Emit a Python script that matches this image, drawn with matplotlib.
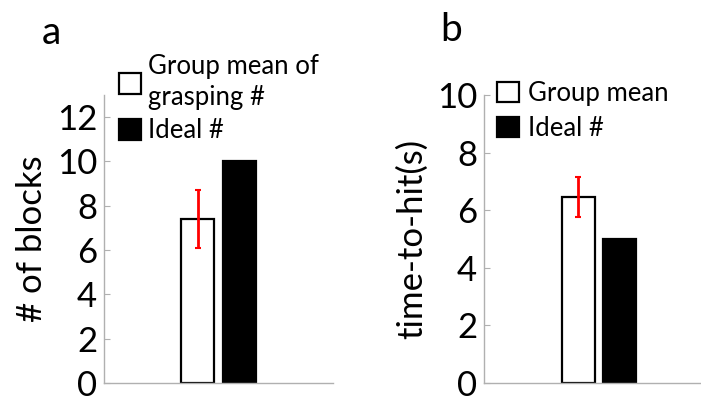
#!/usr/bin/python
# coding:utf-8

import matplotlib
matplotlib.use('Agg')
from matplotlib import pyplot as plt

# panel a: number of blocks
a_labels = ['Group mean of\ngrasping #', 'Ideal #']
a_values = [7.4, 10]
a_err = [1.3, 0]

# panel b: time-to-hit
b_labels = ['Group mean', 'Ideal #']
b_values = [6.45, 5]
b_err = [0.7, 0]

W, H = 701, 397


def px(x, y):
    return x / W, 1 - y / H


def draw_panel(fig, rect, values, err, labels, ylabel, ylim, yticks,
               leg_xy, leg_spacing, leg_pad, letter, letter_xy):
    ax = fig.add_axes(rect)
    xs = [0.41, 0.59]
    ax.bar(xs[0], values[0], width=0.145, color='white', edgecolor='black',
           linewidth=1.6, label=labels[0], zorder=2)
    ax.bar(xs[1], values[1], width=0.145, color='black', edgecolor='black',
           linewidth=1.6, label=labels[1], zorder=2)
    ax.errorbar(xs[0], values[0], yerr=err[0], color='red', elinewidth=2,
                capsize=2.5, capthick=1.5, zorder=3)
    ax.set_xlim(0, 1)
    ax.set_ylim(*ylim)
    ax.set_yticks(yticks)
    ax.set_xticks([])
    for s in ['top', 'right']:
        ax.spines[s].set_visible(False)
    for s in ['left', 'bottom']:
        ax.spines[s].set_color('#b0b0b0')
        ax.spines[s].set_linewidth(1.0)
    ax.tick_params(axis='y', direction='in', length=4, color='#b0b0b0',
                   labelsize=25, pad=5)
    ax.set_ylabel(ylabel, fontsize=25, labelpad=6)
    leg = ax.legend(loc='upper left', bbox_to_anchor=px(*leg_xy),
                    bbox_transform=fig.transFigure, frameon=False,
                    fontsize=18.5, handlelength=0.86, handleheight=0.86,
                    handletextpad=leg_pad, labelspacing=leg_spacing,
                    borderpad=0, borderaxespad=0)
    for t in leg.get_texts():
        t.set_linespacing(1.32)
    fx, fy = px(*letter_xy)
    fig.text(fx, fy, letter, fontsize=28, ha='center', va='center')
    return ax


def main():
    plt.rcParams['font.family'] = ['Lato', 'DejaVu Sans']
    fig = plt.figure(figsize=(W / 100, H / 100), dpi=100)

    bottom = 14 / H
    height = (383 - 95) / H
    draw_panel(fig, [104 / W, bottom, 229 / W, height], a_values, a_err,
               a_labels, '# of blocks', (0, 13), range(0, 13, 2),
               (119, 54), 0.3, 0.25, 'a', (51, 33))
    draw_panel(fig, [484 / W, bottom, 230 / W, height], b_values, b_err,
               b_labels, 'time-to-hit(s)', (0, 10), range(0, 11, 2),
               (497, 81), 0.39, 0.35, 'b', (451, 30))

    plt.savefig('out.png', dpi=100)

if __name__ == '__main__':
    main()
